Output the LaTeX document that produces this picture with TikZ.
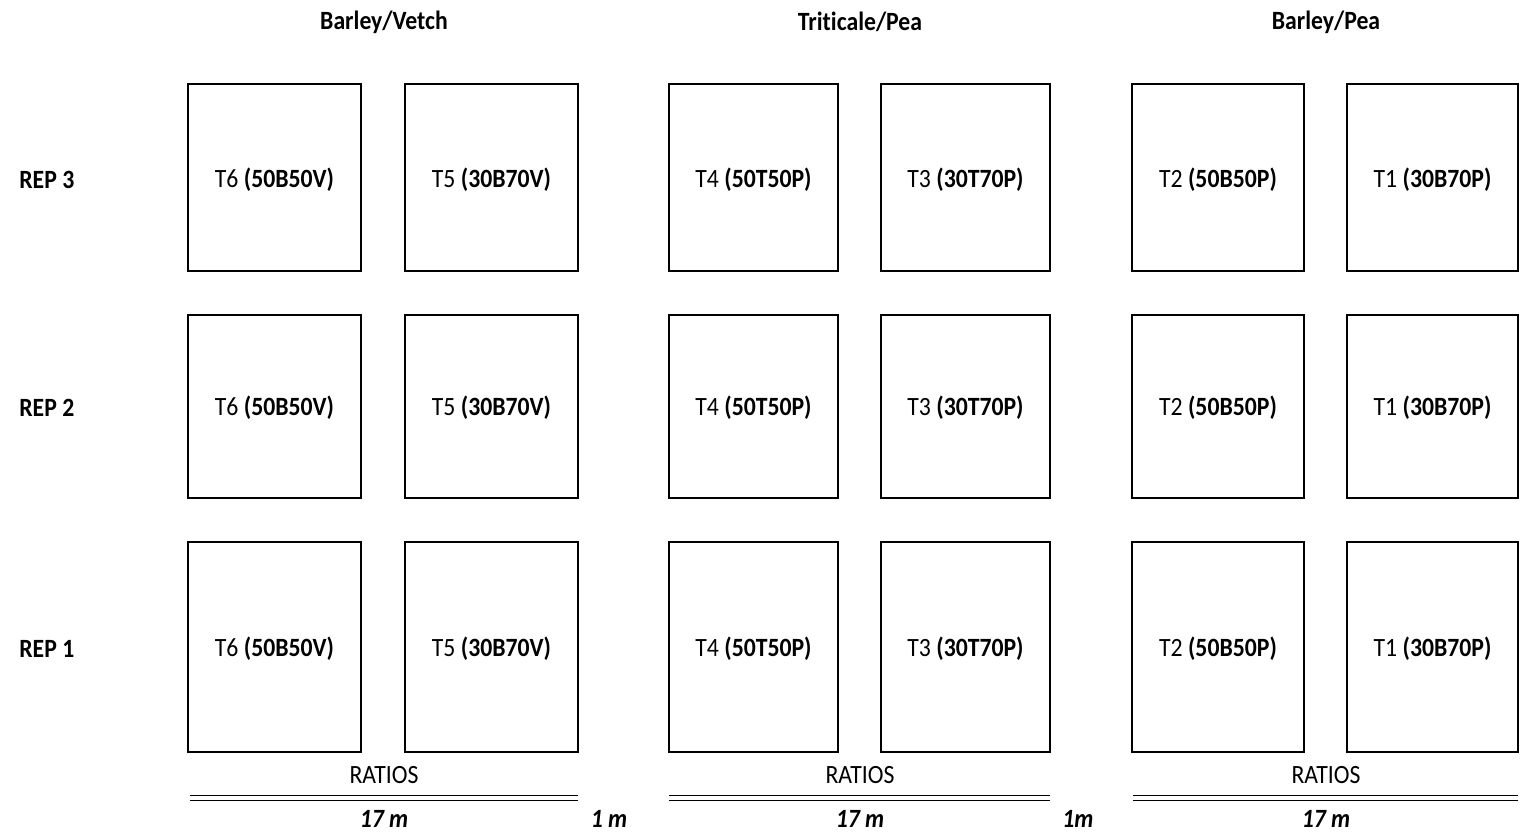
\documentclass[tikz,border=0pt]{standalone}
\usepackage{fontspec}
\setmainfont{Carlito}[FakeStretch=0.9,Ligatures=NoCommon]
\begin{document}
\begin{tikzpicture}[x=0.02cm,y=-0.02cm,
  lab/.style={font=\fontsize{15}{18}\selectfont},
  bl/.style={font=\fontsize{15}{18}\selectfont\bfseries},
  dim/.style={font=\fontsize{15}{18}\selectfont\bfseries\itshape,inner sep=0.5pt},
  plotbox/.style={draw=black,line width=1.3pt},
  dline/.style={draw=black,double,double distance=2pt,line width=0.6pt}]
\useasboundingbox (0,0) rectangle (1524,833);
% headers
\node[bl] (h1) at (384,22) {Barley/Vetch};
\node[bl] (h2) at (860,22) {Tri\kern0ptticale/Pea};
\node[bl] (h3) at (1326,22) {Barley/Pea};
% rep labels
\node[bl,anchor=west,inner sep=0pt] (r3) at (19,180) {REP 3};
\node[bl,anchor=west,inner sep=0pt] (r2) at (19,408) {REP 2};
\node[bl,anchor=west,inner sep=0pt] (r1) at (19,649) {REP 1};
% plots
\foreach \r/\ya/\yb/\yc in {3/84/271/180, 2/315/498/408, 1/542/752/649}{
  \foreach \c/\xa/\xb/\tn/\tr in {a/188/361/T6/50B50V, b/405/578/T5/30B70V, c/669/838/T4/50T50P, d/881/1050/T3/30T70P, e/1132/1304/T2/50B50P, f/1347/1518/T1/30B70P}{
    \draw[plotbox] (\xa,\ya) rectangle (\xb,\yb);
    \node[lab] (p\r\c) at ({(\xa+\xb)/2},\yc) {\tn\ \textbf{(\tr)}};
  }
}
% ratios
\node[lab] (ra1) at (384,775) {RATIOS};
\node[lab] (ra2) at (860,775) {RATIOS};
\node[lab] (ra3) at (1326,775) {RATIOS};
\coordinate (l1a) at (190,798); \coordinate (l1b) at (578,798);
\coordinate (l2a) at (669,798); \coordinate (l2b) at (1050,798);
\coordinate (l3a) at (1133,798); \coordinate (l3b) at (1518,798);
\draw[dline] (l1a) -- (l1b);
\draw[dline] (l2a) -- (l2b);
\draw[dline] (l3a) -- (l3b);
\node[dim] (m1) at (384,819) {17 m};
\node[dim] (m2) at (860,819) {17 m};
\node[dim] (m3) at (1326,819) {17 m};
\node[dim] (g1) at (609,819) {1 m};
\node[dim] (g2) at (1078,819) {1m};
\end{tikzpicture}
\end{document}
